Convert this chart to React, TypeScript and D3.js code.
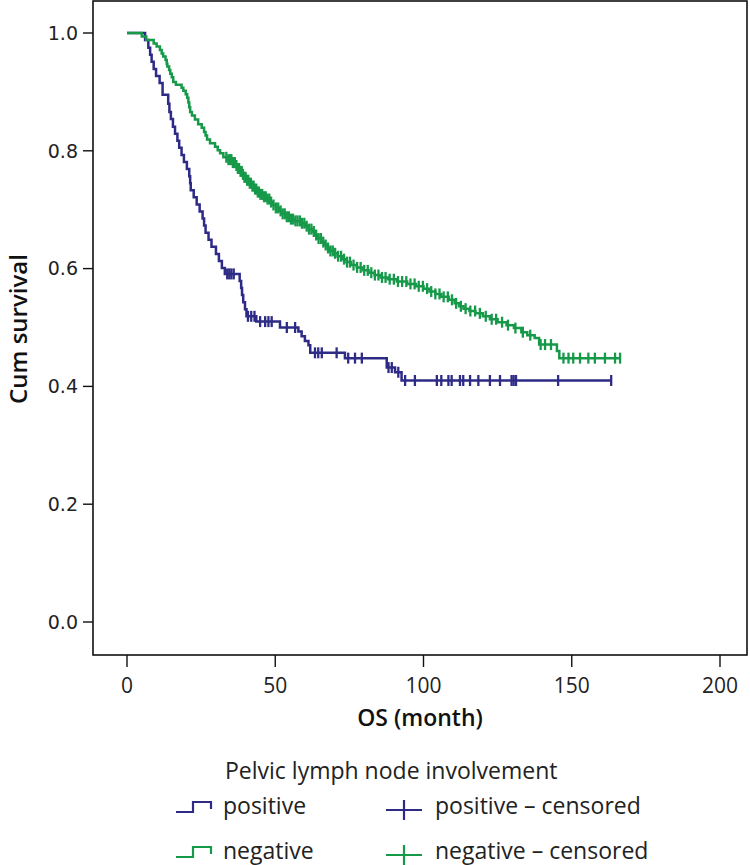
import React from "react";
import * as d3 from "d3";

// ---- data ----
const yTicks = [0, 0.2, 0.4, 0.6, 0.8, 1.0];
const xTicks = [0, 50, 100, 150, 200];

// positive: [month, survival after drop]
const posSteps: [number, number][] = [
  [0, 1.0], [6.1, 0.988], [7.2, 0.975], [7.8, 0.963], [8.3, 0.951], [9.0, 0.939], [9.8, 0.927],
  [11.0, 0.915], [12.0, 0.895], [13.9, 0.880], [14.3, 0.866], [14.8, 0.854], [15.5, 0.841],
  [16.2, 0.829], [17.0, 0.817], [17.6, 0.805], [18.4, 0.793], [19.2, 0.781], [20.2, 0.769],
  [21.0, 0.757], [21.3, 0.745], [21.5, 0.733], [22.5, 0.721], [23.5, 0.709], [24.5, 0.697],
  [25.5, 0.685], [26.0, 0.673], [26.5, 0.661], [27.5, 0.649], [28.5, 0.637], [30.0, 0.625],
  [31.0, 0.613], [32.0, 0.601], [33.0, 0.591], [38.0, 0.579], [38.5, 0.567], [38.8, 0.555],
  [39.2, 0.543], [39.8, 0.531], [40.3, 0.519], [43.6, 0.510], [51.6, 0.500], [57.8, 0.493],
  [58.9, 0.485], [60.0, 0.477], [61.2, 0.470], [61.8, 0.457], [73.5, 0.448], [87.6, 0.432],
  [90.4, 0.424], [92.6, 0.410],
];
const posCensored = [
  33.8, 34.5, 35.2, 36.0, 40.8, 41.9, 43.0, 44.9, 46.6, 47.7, 48.8, 53.9, 56.7, 63.4, 64.5,
  65.7, 70.7, 74.6, 76.9, 79.2, 88.2, 89.3, 91.5, 93.8, 97.1, 104.5, 106.0, 108.4, 109.5,
  112.3, 113.4, 115.7, 118.5, 122.4, 125.8, 129.7, 130.4, 131.2, 145.4, 163.3,
];

// negative
const negSteps: [number, number][] = [
  [0, 1.0], [5.0, 0.994], [6.5, 0.988], [9.0, 0.982], [10.0, 0.977], [11.1, 0.971], [11.7, 0.965],
  [12.2, 0.960], [13.0, 0.954], [13.4, 0.948], [13.6, 0.943], [14.2, 0.937], [14.6, 0.931],
  [15.1, 0.925], [15.6, 0.917], [16.5, 0.912], [18.4, 0.907], [19.0, 0.902], [19.8, 0.896],
  [20.3, 0.890], [20.7, 0.882], [21.0, 0.874], [21.3, 0.866], [21.9, 0.860], [22.9, 0.853],
  [24.0, 0.845], [25.2, 0.839], [26.0, 0.832], [26.5, 0.826], [27.0, 0.819], [28.0, 0.813],
  [29.7, 0.807], [30.6, 0.801], [31.4, 0.796], [32.5, 0.789], [34.0, 0.785], [35.5, 0.780],
  [36.5, 0.775], [37.3, 0.770], [38.0, 0.765], [38.8, 0.760], [39.5, 0.755], [40.3, 0.750],
  [41.0, 0.745], [42.0, 0.740], [43.0, 0.735], [44.0, 0.730], [45.0, 0.726], [46.0, 0.722],
  [47.2, 0.718], [48.2, 0.713], [49.2, 0.708], [50.2, 0.703], [51.2, 0.698], [52.3, 0.693],
  [53.5, 0.688], [54.8, 0.684], [56.5, 0.681], [58.5, 0.677], [60.0, 0.672], [61.3, 0.667],
  [62.5, 0.663], [63.5, 0.657], [64.5, 0.651], [65.5, 0.645], [66.6, 0.640], [67.6, 0.635],
  [68.5, 0.630], [69.6, 0.626], [71.0, 0.621], [72.5, 0.616], [74.0, 0.611], [75.5, 0.606],
  [77.5, 0.602], [79.5, 0.597], [81.5, 0.593], [83.5, 0.589], [85.5, 0.585], [88.0, 0.582],
  [91.0, 0.578], [94.5, 0.574], [97.5, 0.570], [100.0, 0.566], [102.0, 0.561], [104.0, 0.557],
  [106.0, 0.552], [108.5, 0.547], [110.5, 0.541], [112.0, 0.536], [113.5, 0.532], [115.5, 0.528],
  [117.5, 0.524], [120.0, 0.519], [122.4, 0.514], [125.0, 0.509], [128.0, 0.504], [130.5, 0.499],
  [133.0, 0.492], [135.0, 0.487], [137.5, 0.482], [139.0, 0.471], [145.0, 0.460], [145.8, 0.448],
];
const negCensored = [
  33.5, 34.2, 34.8, 35.2, 35.7, 36.0, 36.4, 36.9, 37.4, 37.8, 38.3, 38.7, 39.1, 39.6, 40.0,
  40.5, 40.9, 41.4, 41.8, 42.3, 42.7, 43.2, 43.6, 44.1, 44.5, 45.0, 45.6, 46.2, 46.8, 47.4,
  48.0, 48.6, 49.4, 50.2, 51.0, 51.8, 52.5, 53.2, 53.9, 54.6, 55.3, 56.0, 56.8, 57.5, 58.3,
  59.0, 59.8, 60.6, 61.4, 62.2, 63.0, 63.8, 64.6, 65.4, 66.2, 67.0, 67.8, 68.6, 69.4, 70.2,
  71.2, 72.2, 73.2, 74.2, 75.2, 76.4, 77.6, 78.8, 80.0, 81.2, 82.4, 83.6, 84.8, 86.0, 87.2,
  88.6, 90.0, 91.4, 92.8, 94.2, 95.6, 97.0, 98.4, 99.8, 101.2, 102.6, 104.0, 105.4, 106.8,
  108.2, 109.6, 111.0, 112.6, 114.2, 115.8, 117.4, 119.0, 121.0, 123.0, 124.5, 126.5, 128.5,
  131.0, 133.5, 136.0, 139.5, 141.0, 143.0, 147.2, 148.9, 150.5, 152.8, 155.6, 157.8, 161.2,
  164.6, 166.3,
];

const BLUE = "#2e2b87";
const GREEN = "#17994a";

const W = 750;
const H = 865;
const frame = { left: 93, right: 747, top: 1, bottom: 655 };

const x = d3.scaleLinear().domain([0, 200]).range([127, 720]);
const y = d3.scaleLinear().domain([0, 1]).range([622, 33]);

function survAt(steps: [number, number][], t: number) {
  let s = 1;
  for (const [st, sv] of steps) if (st <= t) s = sv;
  return s;
}

function Curve({ steps, censored, color }: { steps: [number, number][]; censored: number[]; color: string }) {
  const last = Math.max(steps[steps.length - 1][0], censored[censored.length - 1]);
  const pts: [number, number][] = [...steps, [last, steps[steps.length - 1][1]]];
  const line = d3
    .line<[number, number]>()
    .x((d) => x(d[0]))
    .y((d) => y(d[1]))
    .curve(d3.curveStepAfter);
  return (
    <g>
      <path d={line(pts) || ""} fill="none" stroke={color} strokeWidth={2.5} />
      {censored.map((c, i) => {
        const cx = x(c);
        const cy = y(survAt(steps, c));
        return <line key={i} x1={cx} x2={cx} y1={cy - 5.5} y2={cy + 5.5} stroke={color} strokeWidth={2.3} />;
      })}
    </g>
  );
}

export default function App() {
  const tickFont = "DejaVu Sans, Verdana, sans-serif";
  const labelFont = "'Open Sans', 'Noto Sans', sans-serif";
  return (
    <svg width={W} height={H} style={{ position: "absolute", left: 0, top: 0, background: "#fff" }}>
      <rect x={0} y={0} width={W} height={H} fill="#fff" />
      <Curve steps={posSteps} censored={posCensored} color={BLUE} />
      <Curve steps={negSteps} censored={negCensored} color={GREEN} />
      <rect
        x={frame.left}
        y={frame.top}
        width={frame.right - frame.left}
        height={frame.bottom - frame.top}
        fill="none"
        stroke="#111"
        strokeWidth={1.6}
      />
      {yTicks.map((t) => (
        <g key={t}>
          <line x1={frame.left - 10} x2={frame.left} y1={y(t)} y2={y(t)} stroke="#111" strokeWidth={1.4} />
          <text x={frame.left - 15} y={y(t)} dy="0.36em" textAnchor="end" fontFamily={tickFont} fontSize={19} fill="#222">
            {t.toFixed(1)}
          </text>
        </g>
      ))}
      {xTicks.map((t) => (
        <g key={t}>
          <line x1={x(t)} x2={x(t)} y1={frame.bottom} y2={frame.bottom + 12} stroke="#111" strokeWidth={1.4} />
          <text x={x(t)} y={frame.bottom + 38} textAnchor="middle" fontFamily={labelFont} fontSize={21} fill="#222">
            {t}
          </text>
        </g>
      ))}
      <text x={420} y={726} textAnchor="middle" fontFamily={labelFont} fontWeight={600} fontSize={23} fill="#111">
        OS (month)
      </text>
      <text
        transform={`translate(27, 329) rotate(-90)`}
        textAnchor="middle"
        fontFamily={labelFont}
        fontWeight={600}
        fontSize={24}
        fill="#111"
      >
        Cum survival
      </text>
      {/* legend */}
      <text x={225} y={779} fontFamily={labelFont} fontSize={23} fill="#222">
        Pelvic lymph node involvement
      </text>
      {[
        { label: "positive", color: BLUE, yy: 812 },
        { label: "negative", color: GREEN, yy: 857 },
      ].map((r) => (
        <g key={r.label}>
          <path
            d={`M176,${r.yy} H193 V${r.yy - 10} H211 V${r.yy - 3}`}
            fill="none"
            stroke={r.color}
            strokeWidth={2.2}
          />
          <text x={223} y={r.yy + 2} fontFamily={labelFont} fontSize={23} fill="#222">
            {r.label}
          </text>
          <line x1={386} x2={422} y1={r.yy - 2} y2={r.yy - 2} stroke={r.color} strokeWidth={2.2} />
          <line x1={404} x2={404} y1={r.yy - 12} y2={r.yy + 8} stroke={r.color} strokeWidth={2.2} />
          <text x={435} y={r.yy + 2} fontFamily={labelFont} fontSize={23} fill="#222">
            {r.label} – censored
          </text>
        </g>
      ))}
    </svg>
  );
}
